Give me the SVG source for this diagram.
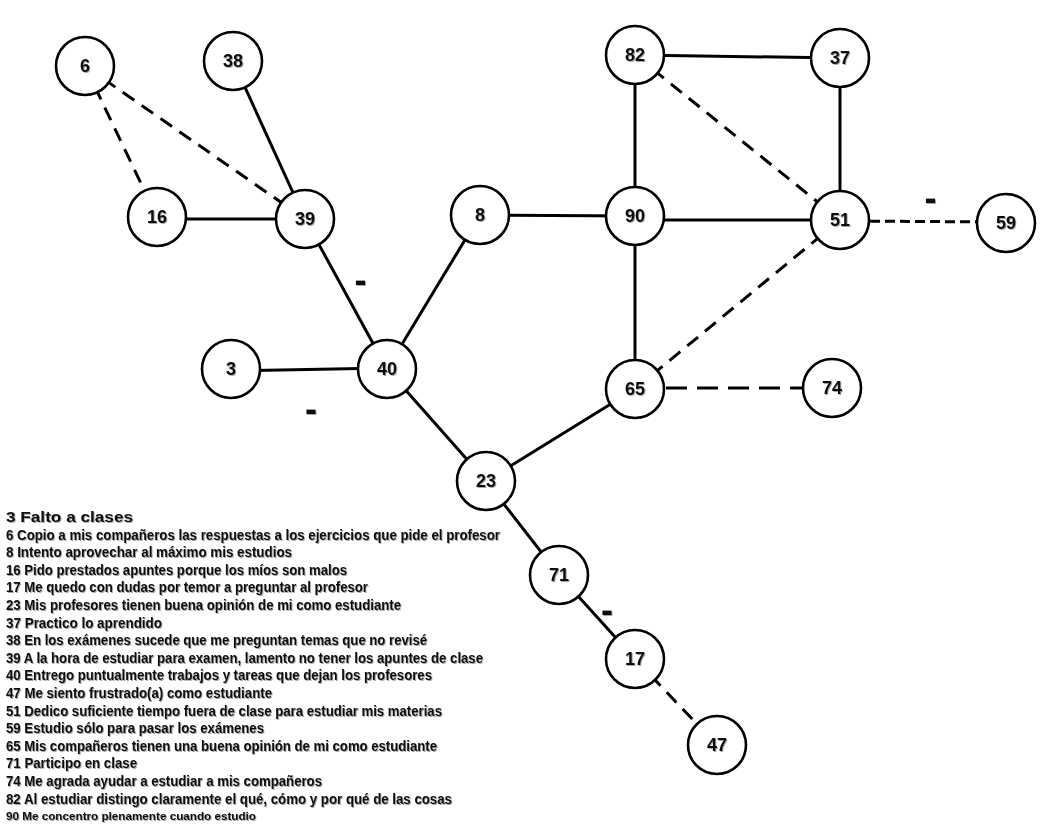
<svg xmlns="http://www.w3.org/2000/svg" width="1042" height="834" viewBox="0 0 1042 834">
<defs>
<filter id="sh" x="-10%" y="-10%" width="120%" height="130%">
<feDropShadow dx="1" dy="1" stdDeviation="0.6" flood-color="#000" flood-opacity="0.35"/>
</filter>
</defs>
<style>
.n circle{fill:#fff;stroke:#000;stroke-width:2.6}
.n text{font-family:"Liberation Sans",Arial,sans-serif;font-weight:bold;font-size:18px;text-anchor:middle;fill:#111;filter:url(#sh)}
.e line{stroke:#000;stroke-width:3;fill:none}
.e line.d{stroke-dasharray:14 9}
.e line.d2{stroke-dasharray:21 10}
.e line.d3{stroke-dasharray:10 5}
.m{font-family:"Liberation Sans",Arial,sans-serif;font-weight:bold;font-size:36px;text-anchor:middle;fill:#111;filter:url(#sh)}
.lg text{font-family:"Liberation Sans",Arial,sans-serif;font-weight:bold;font-size:15px;fill:#111;filter:url(#sh)}
</style>
<rect width="1042" height="834" fill="#fff"/>
<g id="connectors" class="e">
<line x1="157" y1="219" x2="305" y2="219"/>
<line x1="233" y1="61" x2="305" y2="219"/>
<line x1="305" y1="219" x2="387" y2="369"/>
<line x1="231" y1="371" x2="387" y2="368"/>
<line x1="480" y1="215" x2="387" y2="369"/>
<line x1="387" y1="369" x2="486" y2="481"/>
<line x1="480" y1="215" x2="635" y2="216"/>
<line x1="635" y1="55" x2="635" y2="216"/>
<line x1="635" y1="55" x2="840" y2="58"/>
<line x1="840" y1="58" x2="840" y2="220"/>
<line x1="635" y1="220" x2="840" y2="220"/>
<line x1="635" y1="216" x2="635" y2="389"/>
<line x1="635" y1="389" x2="486" y2="481"/>
<line x1="486" y1="481" x2="559" y2="575"/>
<line x1="559" y1="575" x2="635" y2="659"/>
<line class="d" x1="85" y1="66" x2="157" y2="217"/>
<line class="d" x1="85" y1="66" x2="305" y2="219"/>
<line class="d" x1="635" y1="55" x2="840" y2="220"/>
<line class="d3" x1="840" y1="221" x2="1006" y2="222"/>
<line class="d" x1="840" y1="220" x2="635" y2="389"/>
<line class="d2" x1="635" y1="388" x2="832" y2="388"/>
<line class="d" x1="635" y1="659" x2="717" y2="745"/>
</g>
<g id="node-6" class="n"><circle cx="85" cy="66" r="29"/><text x="85" y="72">6</text></g>
<g id="node-38" class="n"><circle cx="233" cy="61" r="29"/><text x="233" y="67">38</text></g>
<g id="node-16" class="n"><circle cx="157" cy="217" r="29"/><text x="157" y="223">16</text></g>
<g id="node-39" class="n"><circle cx="305" cy="219" r="29"/><text x="305" y="225">39</text></g>
<g id="node-8" class="n"><circle cx="480" cy="215" r="29"/><text x="480" y="221">8</text></g>
<g id="node-3" class="n"><circle cx="231" cy="369" r="29"/><text x="231" y="375">3</text></g>
<g id="node-40" class="n"><circle cx="387" cy="369" r="29"/><text x="387" y="375">40</text></g>
<g id="node-23" class="n"><circle cx="486" cy="481" r="29"/><text x="486" y="487">23</text></g>
<g id="node-71" class="n"><circle cx="559" cy="575" r="29"/><text x="559" y="581">71</text></g>
<g id="node-17" class="n"><circle cx="635" cy="659" r="29"/><text x="635" y="665">17</text></g>
<g id="node-47" class="n"><circle cx="717" cy="745" r="29"/><text x="717" y="751">47</text></g>
<g id="node-82" class="n"><circle cx="635" cy="55" r="29"/><text x="635" y="61">82</text></g>
<g id="node-37" class="n"><circle cx="840" cy="58" r="29"/><text x="840" y="64">37</text></g>
<g id="node-90" class="n"><circle cx="635" cy="216" r="29"/><text x="635" y="222">90</text></g>
<g id="node-51" class="n"><circle cx="840" cy="220" r="29"/><text x="840" y="226">51</text></g>
<g id="node-59" class="n"><circle cx="1006" cy="223" r="29"/><text x="1006" y="229">59</text></g>
<g id="node-65" class="n"><circle cx="635" cy="389" r="29"/><text x="635" y="395">65</text></g>
<g id="node-74" class="n"><circle cx="832" cy="388" r="29"/><text x="832" y="394">74</text></g>
<g id="signs">
<text class="m" x="360.5" y="291.5">-</text>
<text class="m" x="311" y="420.5">-</text>
<text class="m" x="930.5" y="210">-</text>
<text class="m" x="607" y="621.5">-</text>
</g>
<g id="legend" class="lg" xml:space="preserve">
<text x="6" y="522" textLength="127" lengthAdjust="spacingAndGlyphs">3  Falto a clases</text>
<text x="6" y="539.6" textLength="494" lengthAdjust="spacingAndGlyphs">6  Copio a mis compañeros las respuestas a los ejercicios que pide el profesor</text>
<text x="6" y="557.2" textLength="286" lengthAdjust="spacingAndGlyphs">8  Intento aprovechar al máximo mis estudios</text>
<text x="6" y="574.8" textLength="341" lengthAdjust="spacingAndGlyphs">16 Pido prestados apuntes porque los míos son malos</text>
<text x="6" y="592.4" textLength="362" lengthAdjust="spacingAndGlyphs">17 Me quedo con dudas por temor a preguntar al profesor</text>
<text x="6" y="610" textLength="395" lengthAdjust="spacingAndGlyphs">23 Mis profesores tienen buena opinión de mi como estudiante</text>
<text x="6" y="627.6" textLength="156" lengthAdjust="spacingAndGlyphs">37 Practico lo aprendido</text>
<text x="6" y="645.2" textLength="421" lengthAdjust="spacingAndGlyphs">38 En los exámenes sucede que me preguntan temas que no revisé</text>
<text x="6" y="662.8" textLength="477" lengthAdjust="spacingAndGlyphs">39 A la hora de estudiar para examen, lamento no tener los apuntes de clase</text>
<text x="6" y="680.4" textLength="426" lengthAdjust="spacingAndGlyphs">40 Entrego puntualmente trabajos y tareas que dejan los profesores</text>
<text x="6" y="698" textLength="266" lengthAdjust="spacingAndGlyphs">47 Me siento frustrado(a) como estudiante</text>
<text x="6" y="715.6" textLength="436" lengthAdjust="spacingAndGlyphs">51 Dedico suficiente tiempo fuera de clase para estudiar mis materias</text>
<text x="6" y="733.2" textLength="258" lengthAdjust="spacingAndGlyphs">59 Estudio sólo para pasar los exámenes</text>
<text x="6" y="750.8" textLength="431" lengthAdjust="spacingAndGlyphs">65 Mis compañeros tienen una buena opinión de mi como estudiante</text>
<text x="6" y="768.4" textLength="131" lengthAdjust="spacingAndGlyphs">71 Participo en clase</text>
<text x="6" y="786" textLength="316" lengthAdjust="spacingAndGlyphs">74 Me agrada ayudar a estudiar a mis compañeros</text>
<text x="6" y="803.6" textLength="446" lengthAdjust="spacingAndGlyphs">82 Al estudiar distingo claramente el qué,  cómo y por qué de las cosas</text>
<text x="6" y="819.5" textLength="250" lengthAdjust="spacingAndGlyphs" style="font-size:11px">90 Me concentro plenamente cuando estudio</text>
</g>
</svg>
